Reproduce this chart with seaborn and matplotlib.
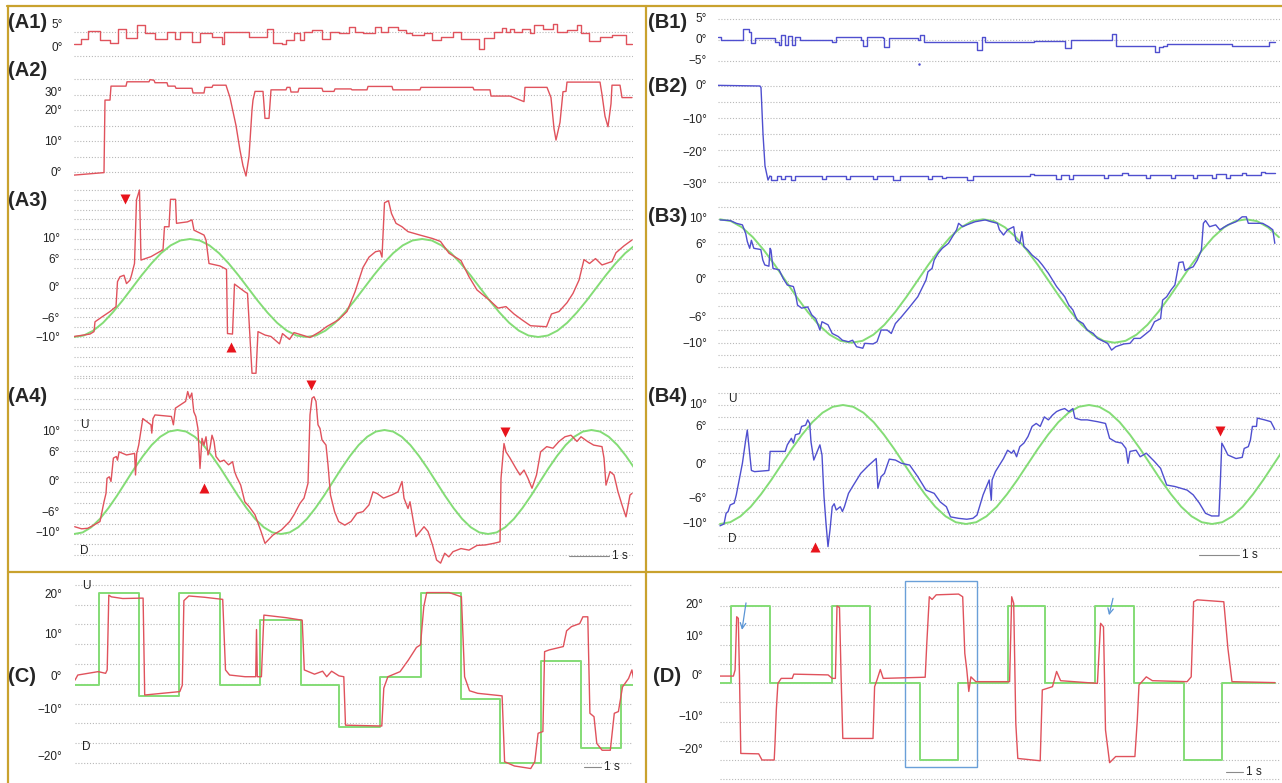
import numpy as np
import matplotlib
matplotlib.use("Agg")
import matplotlib.pyplot as plt
import matplotlib.transforms as mtransforms
from matplotlib.lines import Line2D
from matplotlib.patches import Rectangle
import seaborn as sns

sns.set_style("white")
plt.rcParams['font.family'] = ['Liberation Sans', 'DejaVu Sans']

FS_AB = 40   # samples per second in A and B
FS_CD = 17   # samples per second in C and D

# ---------------- data (sample index, degrees) ----------------
a1_n = [0, 7, 14, 26, 36, 44, 52, 63, 71, 81, 93, 101, 106, 118, 126, 138, 148, 150, 167, 175,
        183, 193, 199, 208, 212, 220, 226, 230, 238, 248, 256, 265, 275, 281, 289, 301, 307, 314, 324, 332,
        338, 350, 358, 367, 379, 387, 405, 410, 420, 428, 432, 436, 440, 448, 456, 460, 469, 479, 483, 493,
        503, 507, 515, 526, 538, 552, 558]
a1_deg = [2.6, 3.6, 5.3, 3.3, 2.8, 5.6, 3.7, 6.4, 4.7, 3.5, 4.9, 3.5, 4.9, 3.0, 4.7, 4.0, 2.6, 5.1, 4.9, 4.0,
          3.9, 5.6, 2.8, 2.4, 3.3, 4.7, 3.3, 5.1, 5.4, 3.5, 5.1, 4.7, 6.1, 5.1, 4.7, 6.0, 4.9, 6.1, 5.4, 4.7,
          4.4, 4.7, 3.3, 3.9, 5.1, 3.5, 1.4, 3.7, 5.1, 5.8, 5.1, 5.6, 4.9, 5.6, 4.7, 6.4, 5.6, 6.7, 5.1, 5.4,
          6.4, 4.7, 3.2, 4.0, 4.4, 2.4, 2.4]

a2_n = [0, 30, 31, 36, 37, 52, 53, 75, 76, 80, 81, 93, 94, 101, 102, 118, 119, 130, 131, 138,
        139, 152, 156, 162, 166, 169, 172, 175, 178, 179, 181, 189, 191, 195, 197, 212, 213, 216, 217, 224,
        225, 248, 249, 260, 261, 277, 278, 293, 294, 318, 319, 346, 347, 399, 400, 416, 417, 436, 450, 451,
        473, 477, 480, 482, 486, 489, 492, 493, 526, 528, 531, 534, 537, 538, 546, 548, 558]
a2_deg = [-1.0, -0.2, 23.2, 23.2, 27.7, 27.7, 29.1, 29.1, 29.8, 29.6, 28.8, 28.8, 27.7, 27.7, 27.0, 27.0, 25.5, 25.5, 27.3, 27.3,
          28.0, 28.0, 24.0, 15.0, 7.0, 2.0, -1.3, 5.0, 20.0, 23.2, 26.0, 26.0, 17.3, 17.3, 26.5, 26.5, 27.3, 27.3, 25.8, 25.8,
          27.0, 27.0, 26.0, 26.0, 26.8, 26.8, 26.5, 26.5, 27.6, 27.6, 26.5, 26.5, 27.3, 27.3, 26.5, 26.5, 24.5, 24.5, 22.7, 27.3,
          27.3, 24.0, 14.0, 10.3, 16.0, 25.9, 26.0, 29.0, 29.0, 25.0, 18.0, 14.6, 22.0, 28.0, 28.0, 24.0, 24.0]

a3_n = [0, 16, 20, 21, 28, 36, 42, 43.5, 46, 50, 52.5, 56, 57.5, 60.5, 62.5, 65.5, 67, 77, 89, 90.5,
        95, 96.5, 101.5, 102.5, 113.5, 118, 120, 126, 130, 132, 135, 146, 152.5, 153.5, 158.5, 160.5, 171, 173.5, 178, 182,
        184, 191, 197, 205.5, 208.5, 215.5, 220, 236, 246, 252.5, 264.5, 273, 281, 289, 295, 301.5, 306, 308, 310.5, 314.5,
        317.5, 322, 328, 334, 346, 358.5, 366.5, 375, 387, 395, 403, 415.5, 424, 432, 440, 448, 456.5, 472.5, 477.5, 485,
        493, 499, 505, 510, 515.5, 521.5, 528, 538, 542, 550, 558]
a3_deg = [-9.9, -9.4, -8.9, -6.9, -5.9, -4.8, -3.8, 1.3, 2.3, 2.6, 0.9, 1.6, 2.6, 5.0, 18.0, 20.0, 5.7, 6.4, 7.8, 12.5,
          12.5, 18.1, 18.1, 13.2, 13.5, 13.9, 11.8, 11.2, 10.8, 9.8, 5.0, 4.5, 3.8, -9.3, -9.4, 0.8, -0.8, -1.1, -17.4, -17.4,
          -8.9, -9.6, -9.9, -11.4, -9.3, -10.5, -9.1, -10.1, -8.9, -7.9, -6.5, -4.8, -0.8, 4.2, 6.3, 7.4, 7.6, 6.3, 17.4, 17.8,
          15.2, 13.2, 12.5, 11.5, 10.8, 10.1, 9.5, 7.1, 5.6, 2.3, -0.4, -2.5, -4.1, -3.8, -5.3, -6.5, -7.7, -7.9, -5.3, -4.8,
          -3.0, -1.1, 1.6, 5.8, 5.0, 6.0, 4.7, 5.4, 7.2, 8.6, 9.8]
a3_target = [-10, -9.7, -8.7, -7.1, -5, -2.6, 0, 2.6, 5, 7.1, 8.7, 9.7, 10, 9.7, 8.7, 7.1, 5, 2.6, 0, -2.6, -5, -7.1, -8.7, -9.7,
             -10, -9.7, -8.7, -7.1, -5, -2.6, 0, 2.6, 5, 7.1, 8.7, 9.7, 10, 9.7, 8.7, 7.1, 5, 2.6, 0, -2.6, -5, -7.1, -8.7, -9.7,
             -10, -9.7, -8.7, -7.1, -5, -2.6, 0, 2.6, 5, 7.1, 8.7]
a3_target_step = 9.67
a3_up = [(156.5, -12.1)]
a3_down = [(51, 18.2)]

a4_n = [0.7, 7.6, 13.7, 19.8, 26, 28, 30, 32, 33, 35.3, 37, 39.4, 42.3, 43.5, 45.1, 52.5, 60.6, 61.5, 62.7, 64.7,
        68.8, 77, 77.8, 79, 81, 97.4, 99.4, 101.4, 111.6, 113.7, 115.7, 117.8, 119.8, 121.8, 123.9, 126, 128, 130, 132, 134,
        136, 138, 140, 142, 146, 150, 154.5, 158.6, 160.6, 162.6, 166.7, 170.8, 175, 181, 187, 191, 199, 207.5, 215.7, 220,
        226, 230, 234, 236, 238, 240, 242, 244, 246, 248, 252, 254, 256.5, 260.6, 264.6, 270.8, 277, 283, 289, 295,
        299, 303, 309.5, 317.7, 324, 328, 330, 334, 336, 340, 342, 350, 354, 358.5, 362.6, 366.6, 370.7, 374.8, 379, 387,
        395, 403, 411.5, 419.7, 426, 427, 430, 432, 436, 442, 446, 450, 454, 458, 462.5, 466.6, 472.7, 479, 485, 491,
        497, 503, 507, 513.5, 519.6, 528, 530, 532, 536, 540, 544, 548, 552, 556, 558]
a4_deg = [-8.6, -9.0, -8.9, -8.3, -7.6, -5.7, -3.8, -2.2, 0.7, 1.0, 0.1, 4.6, 4.9, 4.2, 5.8, 5.2, 5.5, 1.35, 5.5, 7.1,
          12.2, 11.0, 9.4, 12.2, 12.9, 12.6, 11.0, 14.2, 15.5, 17.4, 16.1, 17.1, 13.5, 12.6, 10.3, 2.6, 8.4, 7.1, 8.7, 5.2,
          6.5, 9.0, 7.8, 4.9, 3.9, 4.2, 3.3, 3.9, 2.0, 1.0, -0.6, -3.8, -4.7, -6.3, -9.5, -11.8, -10.2, -9.2, -7.6, -6.3,
          -4.1, -3.1, -0.25, 12.9, 16.1, 16.4, 15.5, 11.0, 10.3, 8.1, 7.1, 3.3, -2.5, -5.7, -7.6, -8.3, -7.6, -6.0, -5.7, -4.4,
          -1.9, -2.2, -3.1, -2.5, -1.9, 0.1, -3.1, -5.1, -3.8, -8.3, -10.5, -8.6, -9.5, -12.1, -15.0, -15.6, -13.7, -14.4, -13.4, -12.8,
          -13.1, -12.2, -12.1, -11.8, -11.5, 0.7, 7.4, 5.8, 4.6, 2.6, 1.35, 2.3, 0.7, -1.2, 1.35, 5.8, 6.8, 6.5, 7.8, 8.7,
          9.0, 7.8, 8.7, 7.8, 7.1, 6.8, 4.6, -0.6, 2.0, 1.35, -1.9, -4.4, -6.7, -2.5, -2.2]
a4_target = [-10, -9.7, -8.7, -7.1, -5, -2.6, 0, 2.6, 5, 7.1, 8.7, 9.7, 10, 9.7, 8.7, 7.1, 5, 2.6, 0, -2.6, -5, -7.1, -8.7, -9.7,
             -10, -9.7, -8.7, -7.1, -5, -2.6, 0, 2.6, 5, 7.1, 8.7, 9.7, 10, 9.7, 8.7, 7.1, 5, 2.6, 0, -2.6, -5, -7.1, -8.7, -9.7,
             -10, -9.7, -8.7, -7.1, -5, -2.6, 0, 2.6, 5, 7.1, 8.7, 9.7, 10, 9.7, 8.7, 7.1, 5, 2.6]
a4_target_step = 8.625
a4_up = [(130, -1.2)]
a4_down = [(237, 18.6), (431, 9.7)]

b1_n = [0, 3, 25, 31, 33, 37, 57, 61, 63, 67, 70, 74, 77, 82, 114, 118, 143, 145, 149, 165,
        166, 171, 200, 202, 206, 259, 264, 267, 314, 316, 347, 353, 394, 398, 437, 441, 445, 449, 514, 551, 557]
b1_deg = [0.7, -0.1, 2.4, 1.9, -0.9, 0.3, -0.5, -1.3, 1.1, -1.3, 0.8, -1.3, 0.5, 0.0, -0.5, 0.7, 0.0, -1.6, 0.7, 0.3,
          -1.7, 0.3, -0.2, 1.1, -0.5, -2.5, 0.5, -0.5, -0.7, -0.3, -2.1, -0.1, 1.3, -1.5, -2.9, -1.9, -1.6, -1.1, -1.5, -0.5, -0.5]

b2_drop_n = [0, 42, 43, 45, 47, 50, 52]
b2_drop_deg = [0.2, 0.0, -0.5, -15.0, -25.0, -29.4, -28.1]
b2_n = [52, 53, 59, 63, 67, 73, 77, 104, 108, 128, 132, 155, 159, 175, 182, 210, 214, 224, 228, 249,
        255, 312, 316, 338, 343, 351, 355, 386, 390, 404, 410, 428, 432, 453, 457, 475, 479, 494, 498, 508,
        512, 524, 528, 543, 547, 557]
b2_deg = [-28.1, -29.3, -28.1, -29.2, -28.1, -29.3, -28.1, -29.2, -28.1, -29.0, -28.1, -29.2, -28.1, -29.4, -28.2, -29.2, -28.2, -28.9, -28.3, -29.3,
          -28.2, -27.4, -27.9, -29.0, -27.9, -29.0, -27.8, -28.9, -27.8, -27.2, -27.7, -28.7, -27.7, -28.8, -27.7, -28.8, -27.7, -28.8, -27.6, -28.6,
          -27.8, -27.2, -27.8, -27.0, -27.3, -27.3]

b3_n = [2, 12.2, 18.3, 24.4, 27.7, 29.3, 31.7, 33.4, 35.8, 42.8, 44.8, 46.8, 50.9, 52.1, 53, 55, 61.1, 65.2, 69.3, 75.4,
        77.4, 79.5, 83.6, 89.7, 93.8, 97.8, 101.9, 104, 110, 114.2, 120.3, 124.4, 130.5, 134.6, 138.6, 144.8, 146.8, 155, 159, 163.1,
        169.2, 173.3, 177.4, 183.5, 191.7, 199.8, 208, 210, 214.1, 216.2, 220.2, 224.3, 230.4, 238.6, 240.6, 244.7, 248.8, 257, 267.2, 273.3,
        279.4, 281.4, 285.5, 289.6, 295.7, 297.8, 301.8, 303.9, 305.9, 310, 314.1, 320.2, 324.3, 330.4, 338.6, 346.7, 350.8, 354.9, 359, 365.1,
        369.2, 375.3, 379.4, 389.6, 393.6, 397.7, 405.9, 412, 416.1, 422.2, 428.3, 432.4, 436.5, 442.6, 444.6, 448.7, 452.8, 456.9, 461, 465,
        467.1, 471.2, 475.2, 479.3, 483.4, 485.4, 487.5, 491.6, 497.7, 501.8, 509.9, 518, 524.2, 528.3, 530.3, 544.6, 550.7, 554.8, 556.8]
b3_deg = [9.9, 9.8, 9.35, 9.1, 7.7, 6.4, 5.3, 6.6, 5.3, 5.1, 3.4, 2.6, 2.4, 5.3, 5.0, 2.05, 1.8, 0.4, -0.65, -0.9,
          -2.0, -3.9, -4.4, -4.2, -5.5, -6.1, -7.95, -6.6, -7.1, -8.5, -9.0, -9.6, -9.85, -9.6, -10.65, -10.9, -10.1, -10.2, -9.85, -7.95,
          -7.95, -8.5, -6.9, -5.8, -4.2, -2.55, 0.16, 1.5, 2.05, 3.4, 4.5, 5.3, 6.1, 8.3, 9.35, 8.8, 9.1, 9.6, 9.9, 9.6,
          9.35, 8.3, 7.45, 8.3, 8.8, 6.6, 6.1, 8.0, 5.6, 5.0, 4.2, 3.4, 2.6, 1.25, -0.9, -2.55, -3.9, -4.7, -6.3, -6.9,
          -7.95, -8.5, -9.3, -10.1, -11.2, -10.65, -10.2, -10.1, -9.3, -9.3, -8.5, -7.95, -6.6, -6.1, -3.1, -2.55, -1.5, -0.65, 3.0, 3.1,
          1.7, 2.05, 2.3, 3.4, 5.0, 9.35, 9.8, 8.8, 9.1, 8.3, 9.1, 9.6, 10.4, 10.4, 9.35, 9.35, 8.8, 8.3, 6.1]
b3_target = [10, 9.7, 8.7, 7.1, 5, 2.6, 0, -2.6, -5, -7.1, -8.7, -9.7, -10, -9.7, -8.7, -7.1, -5, -2.6, 0, 2.6, 5, 7.1, 8.7, 9.7,
             10, 9.7, 8.7, 7.1, 5, 2.6, 0, -2.6, -5, -7.1, -8.7, -9.7, -10, -9.7, -8.7, -7.1, -5, -2.6, 0, 2.6, 5, 7.1, 8.7, 9.7,
             10, 9.7, 8.7, 7.1]
b3_target_step = 10.96

b4_n = [2, 6, 8.1, 10.1, 12.2, 16.2, 18.3, 24.4, 27.7, 29.3, 30.5, 33.4, 36.6, 50.9, 52.1, 67.2, 69.3, 73.4, 75.4, 77.4,
        81.5, 83.6, 87.6, 89.7, 91.7, 93, 95.8, 97.8, 101.9, 104, 106, 108, 110, 112, 114.2, 116.2, 118.2, 122.3, 124.4, 126.4,
        130.5, 134.6, 142.7, 150.9, 158.2, 159.9, 161.1, 163.1, 166.4, 169.2, 171.3, 177.4, 183.5, 191.7, 199.8, 208, 216.2, 222.3, 228.4, 232.5,
        240.6, 248.8, 254.9, 259, 265.1, 271.2, 273.3, 274.1, 277.4, 285.5, 289.6, 293.7, 295.7, 298.6, 301.8, 305.9, 310, 314.1, 318.2, 322.2,
        326.3, 330.4, 334.5, 338.6, 342.6, 346.7, 350.8, 354.9, 356.9, 363, 369.2, 379.4, 387.5, 391.6, 397.7, 403.8, 407.9, 410, 412, 418.1,
        422.2, 428.3, 436.5, 442.6, 448.7, 456.9, 469.1, 475.2, 481.4, 487.5, 493.6, 500.9, 502.6, 503.8, 505.8, 509.9, 518, 524.2, 526.2, 530.3,
        532.4, 534.4, 538.5, 539.3, 546.6, 552.8, 556.8]
b4_deg = [-10.3, -10.0, -8.2, -7.9, -6.8, -6.5, -5.1, 0.2, 4.1, 5.8, 3.8, -1.0, -1.2, -1.0, 2.2, 2.2, 3.3, 4.4, 3.6, 5.0,
          5.2, 6.4, 6.6, 7.5, 6.9, 3.8, 0.75, 1.6, 3.3, 1.6, -5.4, -9.9, -13.8, -11.0, -7.1, -6.6, -7.65, -7.1, -7.9, -7.1,
          -4.85, -3.7, -1.5, -0.1, 1.0, -4.0, -3.2, -2.05, -1.5, -0.1, 0.9, 0.75, 0.2, -0.1, -2.05, -4.3, -4.85, -6.3, -7.1, -8.8,
          -9.05, -9.2, -9.05, -8.5, -5.1, -2.6, -6.0, -2.6, -1.2, 1.0, 2.4, 1.9, 2.4, 1.3, 3.0, 3.6, 4.7, 6.4, 6.9, 6.4,
          8.0, 7.5, 8.3, 8.9, 9.2, 9.4, 8.9, 9.4, 7.8, 7.5, 7.5, 7.2, 6.9, 4.4, 3.8, 3.6, 2.7, 0.2, 2.2, 2.4,
          1.3, 1.9, 0.5, -0.65, -3.45, -3.7, -4.3, -5.1, -6.5, -8.2, -8.65, -8.65, -1.8, 3.6, 3.0, 1.6, 1.0, 1.2, 2.7, 3.0,
          4.1, 6.4, 6.4, 7.8, 7.5, 7.2, 5.9]
b4_target = [-10, -9.7, -8.7, -7.1, -5, -2.6, 0, 2.6, 5, 7.1, 8.7, 9.7, 10, 9.7, 8.7, 7.1, 5, 2.6, 0, -2.6, -5, -7.1, -8.7, -9.7,
             -10, -9.7, -8.7, -7.1, -5, -2.6, 0, 2.6, 5, 7.1, 8.7, 9.7, 10, 9.7, 8.7, 7.1, 5, 2.6, 0, -2.6, -5, -7.1, -8.7, -9.7,
             -10, -9.7, -8.7, -7.1, -5, -2.6, 0, 2.6]
b4_target_step = 10.25
b4_up = [(97, -13.8)]
b4_down = [(502, 5.6)]

c_target_n = [0, 24.4, 64, 103.6, 145, 185.2, 226.4, 264, 304.7, 345.5, 385.5, 424.5, 466, 505.5, 545.5, 558.5]
c_target_deg = [-1.6, 20.1, -4.2, 20.1, -1.6, 13.6, -1.6, -11.6, 0.3, 20.1, -5.0, -20.1, 4.1, -16.5, -1.6, -1.6]
c_n = [0, 2.8, 23.2, 30.6, 32.2, 33.8, 36.3, 47.7, 68.1, 69.7, 74.2, 104.8, 107.3, 108.9, 113.8, 129.3, 147.7, 150.5, 154.6, 170.1,
       180.7, 181.5, 182.3, 186.4, 188.9, 210.9, 227.2, 229.3, 239.5, 247.6, 251.7, 256.6, 264, 268.8, 270.5, 306.8, 308.8, 312.9, 325.1, 333.3,
       341.5, 345.5, 348.8, 351.7, 374.1, 386.4, 389.6, 394.5, 402.7, 427.1, 429.6, 439.4, 455.7, 459.8, 463.1, 467.9, 469.6, 474.1, 488.3, 491.6,
       496.5, 504.7, 507.9, 512.8, 514.9, 519, 521.8, 527.1, 535.3, 539.3, 543.4, 547.5, 553.6, 556.9, 558.5]
c_deg = [-0.5, 0.7, 1.5, 1.1, 1.9, 19.5, 19.1, 18.7, 18.8, -4.0, -3.9, -3.2, -1.7, 18.2, 19.3, 19.0, 18.5, 1.9, 0.7, 0.3,
         0.3, 11.4, 0.3, 0.3, 14.8, 14.2, 13.6, 1.9, 0.9, 1.6, 0.3, 1.6, 0.5, 0.3, -11.1, -11.3, -2.4, 0.3, 1.5, 4.2,
         7.2, 7.8, 16.8, 20.1, 20.1, 19.1, 0.3, -3.0, -3.6, -4.2, -19.7, -20.7, -21.3, -19.7, -13.0, -12.6, 6.2, 6.6, 7.4, 11.1,
         12.1, 12.8, 14.4, 14.4, -8.3, -9.1, -15.4, -17.0, -17.0, -8.3, -7.9, -2.1, -0.1, 1.9, -0.1]

d_target_n = [0, 11, 50, 112, 149.7, 200, 238, 287.6, 325, 375.3, 414, 464, 502, 555]
d_target_deg = [0, 20, 0, 20, 0, -20, 0, 20, 0, 20, 0, -20, 0, 0]
d_n = [0, 13.4, 15.1, 16.7, 18.3, 19.5, 20.8, 38.7, 42, 54.2, 55, 56.3, 57.9, 61.2, 72.2, 73.8, 108.1, 112.2, 115.4, 117,
       119.5, 121.1, 122.8, 153, 154.6, 157, 160.3, 163.2, 205.2, 206.8, 209.3, 212.1, 216.2, 238.6, 242.7, 244.8, 246.8, 248.8, 250.9, 255.8,
       289.6, 291.7, 293.7, 295.8, 297.8, 320.2, 322.3, 332.5, 336.6, 340.6, 377.4, 380.6, 383.5, 385.5, 389.6, 395.7, 414.9, 417.3, 419, 426.3,
       432.4, 467.1, 471.2, 473.6, 477.3, 503.8, 507.9, 512, 555]
d_deg = [1.8, 1.8, 3.4, 17.2, 16.8, 1.6, -18.3, -18.4, -20.0, -20.0, -15.7, -7.0, -0.1, 1.2, 1.2, 2.3, 2.1, 1.2, 1.2, 20.0,
         19.6, 1.6, -14.4, -14.4, -0.95, 0.8, 3.5, 1.2, 1.5, 10.3, 22.4, 21.7, 22.9, 23.1, 22.4, 7.7, 3.4, -2.2, 1.6, 0.35,
         0.35, 22.4, 20.7, -10.5, -19.6, -20.2, -1.8, -0.95, 3.0, 0.6, -0.1, 15.5, 14.6, -12.2, -20.7, -19.1, -19.1, -9.6, -0.5, 1.6,
         0.6, 0.35, 1.6, 21.1, 21.6, 21.1, 9.0, 0.35, 0.1]

# ---------------- styling ----------------
RED = '#e0525c'
GREEN = '#84dc76'
BLUE = '#4f4fcf'
GRID = '#b8b8b8'
GOLD = '#c9a22e'
TXT = '#222222'
W, H = 1282, 783

fig = plt.figure(figsize=(W / 100, H / 100), dpi=100)
fig.patch.set_facecolor('white')
limits = []


def panel(x0, x1, zero, ppd, top, bottom):
    ax = fig.add_axes([x0 / W, 1 - bottom / H, (x1 - x0) / W, (bottom - top) / H])
    lim = ((0, x1 - x0), ((zero - bottom) / ppd, (zero - top) / ppd))
    limits.append((ax, lim))
    ax.axis('off')
    return ax


def grid(ax, levels, nmax):
    ax.hlines(levels, 0, nmax, colors=GRID, linestyles=(0, (1, 1.6)), lw=0.8, zorder=0)


def trace(ax, n, deg, color, lw=1.0, **kw):
    sns.lineplot(x=n, y=deg, ax=ax, color=color, lw=lw, estimator=None, sort=False, **kw)


def target(ax, start, step, vals):
    t = start + step * np.arange(len(vals))
    trace(ax, t, vals, GREEN, lw=1.4)


def ylabels(ax, xr, pos, texts):
    tr = mtransforms.blended_transform_factory(fig.transFigure, ax.transData)
    for p, s in zip(pos, texts):
        ax.text(xr / W, p, s, transform=tr, ha='right', va='center', fontsize=8.5, color=TXT)


def tag(x, y, s):
    fig.text(x / W, 1 - y / H, s, fontsize=14.5, fontweight='bold', ha='left', va='center')


def arrows(ax, ups, downs):
    for n, v in ups:
        ax.plot(n, v, marker='^', color='#e8141c', ms=6.5, mec='none', clip_on=False)
    for n, v in downs:
        ax.plot(n, v, marker='v', color='#e8141c', ms=6.5, mec='none', clip_on=False)


def scalebar(ax, n0, v, fs):
    ax.plot([n0, n0 + fs], [v, v], color='#8a8a8a', lw=0.8)
    ax.text(n0 + fs + 3, v, '1 s', fontsize=8.5, va='center', ha='left', color=TXT)


# A1
ax = panel(74, 633, 56, 4.8, 10, 62)
grid(ax, [5, 0], 559)
trace(ax, a1_n, a1_deg, RED, drawstyle='steps-post')
ylabels(ax, 63, [6.5, 1.7], ['5°', '0°'])
tag(8, 22, '(A1)')

# A2
ax = panel(74, 633, 172, 3.1, 64, 182)
grid(ax, [30, 25, 20, 15, 10, 5, 0], 559)
trace(ax, a2_n, a2_deg, RED)
ylabels(ax, 62, [25.5, 19.7, 9.7, -0.3], ['30°', '20°', '10°', '0°'])
tag(8, 71, '(A2)')

# A3
ax = panel(74, 633, 288, 4.9, 185, 380)
grid(ax, np.arange(20, -19, -2), 559)
target(ax, 0, a3_target_step, a3_target)
trace(ax, a3_n, a3_deg, RED)
arrows(ax, a3_up, a3_down)
ylabels(ax, 60, [10, 5.7, 0, -6.3, -10.2], ['10°', '6°', '0°', '−6°', '−10°'])
tag(8, 200, '(A3)')

# A4
ax = panel(74, 633, 482, 5.2, 375, 568)
grid(ax, np.arange(20, -15, -2), 559)
target(ax, 0, a4_target_step, a4_target)
trace(ax, a4_n, a4_deg, RED)
arrows(ax, a4_up, a4_down)
ylabels(ax, 60, [9.6, 5.6, 0, -6, -9.8], ['10°', '6°', '0°', '−6°', '−10°'])
ax.text(6, 11, 'U', fontsize=8.5, va='center', color=TXT)
ax.text(6, -13.3, 'D', fontsize=8.5, va='center', color=TXT)
scalebar(ax, 495, -14.2, FS_AB)
tag(8, 397, '(A4)')

# B1
ax = panel(718, 1280, 39.5, 4.2, 8, 68)
grid(ax, [5, 0, -5], 562)
trace(ax, b1_n, b1_deg, BLUE, drawstyle='steps-post')
ax.plot(201, -5.8, marker='o', ms=1.8, color=BLUE, mec='none')
ylabels(ax, 707, [4.9, -0.1, -5.1], ['5°', '0°', '−5°'])
tag(648, 22, '(B1)')

# B2
ax = panel(718, 1280, 86, 3.2, 70, 192)
grid(ax, [0, -5, -10, -15, -20, -25, -30], 562)
trace(ax, b2_drop_n, b2_drop_deg, BLUE)
trace(ax, b2_n, b2_deg, BLUE, drawstyle='steps-post')
ylabels(ax, 707, [0, -10.6, -20.9, -30.9], ['0°', '−10°', '−20°', '−30°'])
tag(648, 86, '(B2)')

# B3
ax = panel(718, 1280, 281, 6.17, 195, 378)
grid(ax, np.arange(12, -15, -2), 562)
target(ax, 2, b3_target_step, b3_target)
trace(ax, b3_n, b3_deg, BLUE)
ylabels(ax, 707, [10, 5.8, 0.16, -6, -10.2], ['10°', '6°', '0°', '−6°', '−10°'])
tag(648, 217, '(B3)')

# B4
ax = panel(718, 1280, 464.5, 5.95, 385, 565)
grid(ax, np.arange(12, -15, -2), 562)
target(ax, 2, b4_target_step, b4_target)
trace(ax, b4_n, b4_deg, BLUE)
arrows(ax, b4_up, b4_down)
ylabels(ax, 707, [10, 6.3, 0, -5.8, -10], ['10°', '6°', '0°', '−6°', '−10°'])
ax.text(10, 11, 'U', fontsize=8.5, va='center', color=TXT)
ax.text(10, -12.5, 'D', fontsize=8.5, va='center', color=TXT)
scalebar(ax, 481, -15.2, FS_AB)
tag(648, 397, '(B4)')

# C
ax = panel(75, 633, 678, 4.25, 576, 781)
grid(ax, np.linspace(21.9, -20.0, 10), 558)
trace(ax, c_target_n, c_target_deg, GREEN, lw=1.4, drawstyle='steps-post')
trace(ax, c_n, c_deg, RED)
ylabels(ax, 62, [19.5, 10.1, 0.2, -7.5, -18.6], ['20°', '10°', '0°', '−10°', '−20°'])
ax.text(7, 21.6, 'U', fontsize=8.5, va='center', color=TXT)
ax.text(7, -16.2, 'D', fontsize=8.5, va='center', color=TXT)
scalebar(ax, 509, -20.9, FS_CD)
tag(8, 677, '(C)')

# D
ax = panel(720, 1280, 683, 3.85, 576, 783)
grid(ax, [25, 20, 15, 10, 5, 0, -5, -10, -15, -20, -25], 560)
trace(ax, d_target_n, d_target_deg, GREEN, lw=1.4, drawstyle='steps-post')
trace(ax, d_n, d_deg, RED)
ax.add_patch(Rectangle((185, -21.8), 72, 48.3, fill=False, ec='#6a9fd8', lw=1.0, clip_on=False))
for tail, head in [((26, 20.8), (22, 13.8)), ((393, 22.0), (389, 17.6))]:
    ax.annotate('', xy=head, xytext=tail,
                arrowprops=dict(arrowstyle='->', color='#5b95d5', lw=0.9, shrinkA=0, shrinkB=0))
ylabels(ax, 703, [20.3, 11.9, 1.8, -8.8, -17.4], ['20°', '10°', '0°', '−10°', '−20°'])
scalebar(ax, 506, -23.1, FS_CD)
tag(653, 677, '(D)')

for ax, (xl, yl) in limits:
    ax.set_xlim(*xl)
    ax.set_ylim(*yl)

# gold frame lines
for xs, ys in [([7 / W, 1], [1 - 6 / H] * 2),
               ([7.5 / W] * 2, [0, 1 - 6 / H]),
               ([645.5 / W] * 2, [0, 1 - 6 / H]),
               ([7.5 / W, 1], [1 - 572 / H] * 2)]:
    fig.add_artist(Line2D(xs, ys, color=GOLD, lw=1.6, transform=fig.transFigure))

fig.savefig('out.png', dpi=100)
